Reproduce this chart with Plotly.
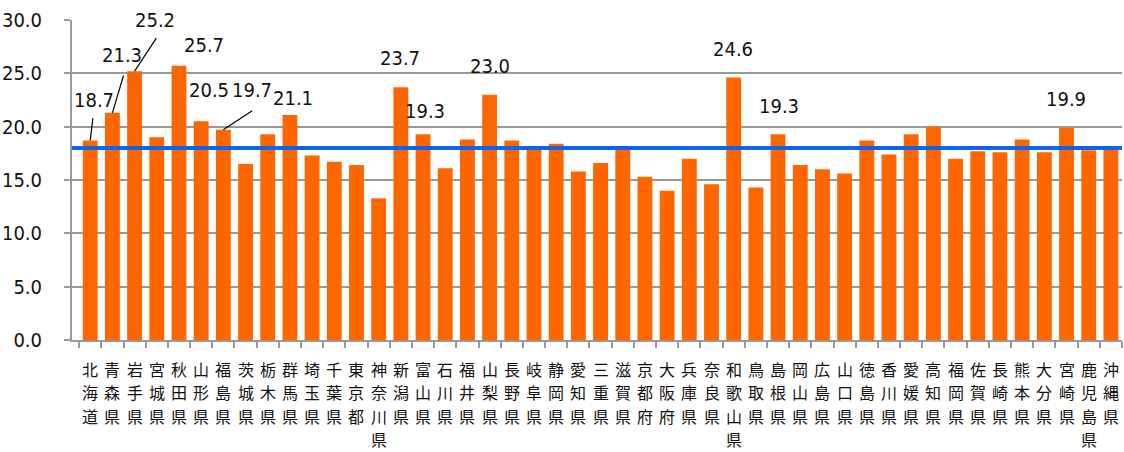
import plotly.graph_objects as go

prefectures = ["北海道", "青森県", "岩手県", "宮城県", "秋田県", "山形県", "福島県", "茨城県", "栃木県", "群馬県",
               "埼玉県", "千葉県", "東京都", "神奈川県", "新潟県", "富山県", "石川県", "福井県", "山梨県", "長野県",
               "岐阜県", "静岡県", "愛知県", "三重県", "滋賀県", "京都府", "大阪府", "兵庫県", "奈良県", "和歌山県",
               "鳥取県", "島根県", "岡山県", "広島県", "山口県", "徳島県", "香川県", "愛媛県", "高知県", "福岡県",
               "佐賀県", "長崎県", "熊本県", "大分県", "宮崎県", "鹿児島県", "沖縄県"]
values = [18.7, 21.3, 25.2, 19.0, 25.7, 20.5, 19.7, 16.5, 19.3, 21.1,
          17.3, 16.7, 16.4, 13.3, 23.7, 19.3, 16.1, 18.8, 23.0, 18.7,
          17.9, 18.4, 15.8, 16.6, 17.9, 15.3, 14.0, 17.0, 14.6, 24.6,
          14.3, 19.3, 16.4, 16.0, 15.6, 18.7, 17.4, 19.3, 20.0, 17.0,
          17.7, 17.6, 18.8, 17.6, 19.9, 17.8, 17.9]
national_average = 18.0
y_ticks = [0, 5, 10, 15, 20, 25, 30]

labelled = ["北海道", "青森県", "岩手県", "秋田県", "山形県", "福島県", "群馬県", "新潟県", "富山県",
            "山梨県", "和歌山県", "島根県", "宮崎県"]
# label placement: (x offset from bar in category units, label y, leader line start (dx, y) or None)
label_layout = {
    "北海道": (0.17, 22.5, (0.12, 20.8)),
    "青森県": (0.42, 26.7, (0.5, 24.8)),
    "岩手県": (0.93, 30.0, (0.98, 28.3)),
    "秋田県": (1.12, 27.7, None),
    "山形県": (0.34, 23.4, None),
    "福島県": (1.3, 23.4, (1.3, 21.5)),
    "群馬県": (0.13, 22.7, None),
    "新潟県": (-0.06, 26.4, None),
    "富山県": (0.1, 21.5, None),
    "山梨県": (0.0, 25.7, None),
    "和歌山県": (-0.03, 27.3, None),
    "島根県": (0.02, 21.9, None),
    "宮崎県": (-0.01, 22.6, None),
}

num_font = "Liberation Sans Narrow, DejaVu Sans Condensed, Arial Narrow, sans-serif"
cjk_font = "Noto Sans CJK JP"
first_row_offset = 29   # px below axis to centre of first character
row_step = 23.4         # px between stacked characters

fig = go.Figure()
fig.add_trace(go.Bar(x=prefectures, y=values, marker_color="#FF6600",
                     marker_line_width=0, showlegend=False))

fig.add_shape(type="line", xref="paper", yref="y", x0=0, x1=1,
              y0=national_average, y1=national_average,
              line=dict(color="#0A64F0", width=4), layer="above")

for name in labelled:
    i = prefectures.index(name)
    v = values[i]
    dx, ly, lead = label_layout[name]
    fig.add_annotation(x=i + dx, y=ly, xref="x", yref="y", text=f"{v:.1f}",
                       showarrow=False, font=dict(family=num_font, size=20, color="#111111"))
    if lead is not None:
        fig.add_shape(type="line", xref="x", yref="y", x0=i + lead[0], y0=lead[1], x1=i, y1=v,
                      line=dict(color="#000000", width=1.2), layer="above")

# vertical (stacked) category labels, one character per row
for name in prefectures:
    for k, ch in enumerate(name):
        fig.add_annotation(x=name, y=0, xref="x", yref="paper", text=ch, showarrow=False,
                           yanchor="middle", xanchor="center",
                           yshift=-(first_row_offset + k * row_step),
                           font=dict(family=cjk_font, size=16, color="#111111"))

fig.update_layout(
    width=1124, height=452,
    margin=dict(l=68, r=2, t=20, b=112),
    paper_bgcolor="white", plot_bgcolor="white",
    bargap=0.33,
)
fig.update_xaxes(
    type="category", showticklabels=False,
    tickson="boundaries", ticks="outside", ticklen=6, tickwidth=2, tickcolor="#999999",
    showline=True, linecolor="#999999", linewidth=2, showgrid=False,
)
fig.update_yaxes(
    range=[0, 30], tickvals=y_ticks, tickformat=".1f",
    showgrid=True, gridcolor="#999999", gridwidth=2,
    ticks="outside", ticklen=6, tickwidth=2, tickcolor="#999999",
    showline=True, linecolor="#999999", linewidth=2, zeroline=False,
    tickfont=dict(family=num_font, size=20, color="#111111"),
    ticklabelstandoff=18,
)

fig.write_html("out.html")
